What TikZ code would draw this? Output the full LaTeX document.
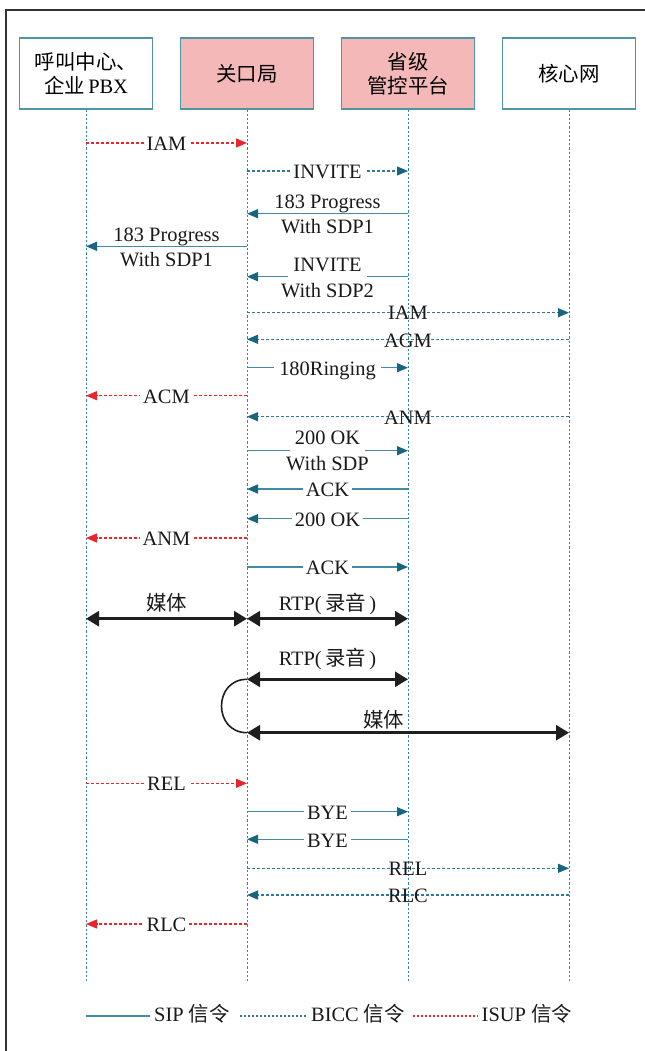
\documentclass[tikz,border=0pt]{standalone}
\usepackage{fontspec}
\setmainfont{Liberation Serif}
\newfontfamily\cjk{Noto Sans CJK SC}
\usetikzlibrary{arrows.meta}
\definecolor{boxline}{HTML}{4E95A8}
\definecolor{boxpink}{HTML}{F5B8B8}
\definecolor{lifec}{HTML}{3A849C}
\definecolor{sipline}{HTML}{3F8CA4}
\definecolor{siphead}{HTML}{17657F}
\definecolor{biccline}{HTML}{2F7B95}
\definecolor{isupred}{HTML}{E8262D}
\definecolor{framec}{HTML}{333333}
\newcommand\lf{\fontsize{20.5}{24}\selectfont}
\begin{document}
\begin{tikzpicture}[x=1bp,y=-1bp,
  frameline/.style={draw=framec, line width=1.5bp},
  hbox/.style={draw=boxline, line width=1.2bp, minimum width=133bp, minimum height=71bp,
    align=center, font=\lf, inner sep=0bp},
  life/.style={draw=lifec, line width=1bp, dash pattern=on 2.2bp off 2bp},
  sip/.style={draw=sipline, line width=1.5bp, -{Triangle[length=11bp,width=9bp,color=siphead]}},
  bicc/.style={draw=biccline, line width=1.2bp, dash pattern=on 3bp off 2bp, -{Triangle[length=11bp,width=9bp,color=siphead]}},
  isup/.style={draw=isupred, line width=1.2bp, dash pattern=on 3bp off 2bp, -{Triangle[length=11bp,width=9bp,color=isupred]}},
  media/.style={draw=black!88, line width=2.7bp, {Triangle[length=13bp,width=15bp]}-{Triangle[length=13bp,width=15bp]}},
  lbl/.style={font=\lf, inner sep=0bp, anchor=base, pos=0.5, text=black!90},
  gap/.style={lbl, fill=white, inner xsep=3bp, inner ysep=1bp},
  legtxt/.style={font=\lf, inner sep=0bp, anchor=base west, text=black!90}
]
\useasboundingbox (0,0) rectangle (645,1051);
\draw[frameline] (6,1051) -- (6,10) -- (645,10);

% headers
\node[hbox] (h1) at (86,73.5) {{\cjk\fontsize{20.5}{27}\selectfont 呼叫中心、}\\[0bp]{\cjk\fontsize{20.5}{27}\selectfont 企业}\,PBX};
\node[hbox, fill=boxpink] (h2) at (247,73.5) {{\cjk\fontsize{20.5}{27}\selectfont 关口局}};
\node[hbox, fill=boxpink] (h3) at (408,73.5) {{\cjk\fontsize{20.5}{27}\selectfont 省级}\\{\cjk\fontsize{20.5}{27}\selectfont 管控平台}};
\node[hbox] (h4) at (569,73.5) {{\cjk\fontsize{20.5}{27}\selectfont 核心网}};

% lifelines
\coordinate (e1) at (86,981);
\coordinate (e2) at (247,981);
\coordinate (e3) at (408,981);
\coordinate (e4) at (569,981);
\draw[life] (h1) -- (e1);
\draw[life] (h2) -- (e2);
\draw[life] (h3) -- (e3);
\draw[life] (h4) -- (e4);

% messages
\draw[isup] (h1 |- 0,143) -- node[gap, yshift=-7.6bp]{IAM} (h2 |- 0,143);
\draw[bicc] (h2 |- 0,171) -- node[gap, yshift=-7.6bp]{INVITE} (h3 |- 0,171);
\draw[sip] (h3 |- 0,213.7) -- node[lbl, yshift=5.4bp]{183 Progress} node[lbl, yshift=-19.6bp]{With SDP1} (h2 |- 0,213.7);
\draw[sip] (h2 |- 0,246.3) -- node[lbl, yshift=4.8bp]{183 Progress} node[lbl, yshift=-20.2bp]{With SDP1} (h1 |- 0,246.3);
\draw[sip] (h3 |- 0,276.7) -- node[gap, yshift=5.1bp, text depth=7bp, inner xsep=5bp]{INVITE} node[lbl, yshift=-20.6bp]{With SDP2} (h2 |- 0,276.7);
\draw[bicc] (h2 |- 0,312.7) -- node[lbl, yshift=-7.2bp]{IAM} (h4 |- 0,312.7);
\draw[bicc] (h4 |- 0,339.3) -- node[lbl, yshift=-8.3bp]{AGM} (h2 |- 0,339.3);
\draw[sip] (h2 |- 0,367.7) -- node[gap, yshift=-8.2bp, inner xsep=5bp]{180Ringing} (h3 |- 0,367.7);
\draw[isup] (h2 |- 0,395.7) -- node[gap, yshift=-7.6bp]{ACM} (h1 |- 0,395.7);
\draw[bicc] (h4 |- 0,416.7) -- node[lbl, yshift=-8bp]{ANM} (h2 |- 0,416.7);
\draw[sip] (h2 |- 0,450.7) -- node[gap, yshift=5.8bp, text depth=8bp, inner xsep=5bp]{200 OK} node[lbl, yshift=-19.9bp]{With SDP} (h3 |- 0,450.7);
\draw[sip] (h3 |- 0,489) -- node[gap, yshift=-7.6bp]{ACK} (h2 |- 0,489);
\draw[sip] (h3 |- 0,518.7) -- node[gap, yshift=-7.6bp]{200 OK} (h2 |- 0,518.7);
\draw[isup] (h2 |- 0,538) -- node[gap, yshift=-7.6bp]{ANM} (h1 |- 0,538);
\draw[sip] (h2 |- 0,567) -- node[gap, yshift=-7.6bp]{ACK} (h3 |- 0,567);

% media
\draw[media] (h1 |- 0,618.7) -- node[lbl, yshift=8.4bp]{\cjk 媒体} (h2 |- 0,618.7);
\draw[media] (h2 |- 0,618.7) -- node[lbl, yshift=8.4bp]{RTP(\,{\cjk 录音}\,)} (h3 |- 0,618.7);
\draw[media] (h2 |- 0,679.3) -- node[lbl, yshift=14bp]{RTP(\,{\cjk 录音}\,)} (h3 |- 0,679.3);
\draw[media] (h2 |- 0,732.7) -- node[lbl, pos=0.425, yshift=5.7bp]{\cjk 媒体} (h4 |- 0,732.7);
\draw[draw=black!88, line width=1.6bp] (h2 |- 0,679.3) .. controls (213,679.3) and (213,732.7) .. (h2 |- 0,732.7);

% release
\draw[isup] (h1 |- 0,783.3) -- node[gap, yshift=-7.6bp]{REL} (h2 |- 0,783.3);
\draw[sip] (h2 |- 0,811.7) -- node[gap, yshift=-8.2bp]{BYE} (h3 |- 0,811.7);
\draw[sip] (h3 |- 0,839.3) -- node[gap, yshift=-8.2bp]{BYE} (h2 |- 0,839.3);
\draw[bicc] (h2 |- 0,868.3) -- node[lbl, yshift=-7.5bp]{REL} (h4 |- 0,868.3);
\draw[bicc] (h4 |- 0,895) -- node[lbl, yshift=-7.8bp]{RLC} (h2 |- 0,895);
\draw[isup] (h2 |- 0,924) -- node[gap, yshift=-7.6bp]{RLC} (h1 |- 0,924);

% legend
\draw[draw=sipline, line width=1.5bp] (86,1016) -- (150,1016);
\node[legtxt] (l1) at (154,1021.6) {SIP {\cjk 信令}};
\draw[draw=biccline, line width=1.2bp, dash pattern=on 2bp off 2bp] (240,1016) -- (306.6,1016);
\node[legtxt] (l2) at (311,1021.6) {BICC {\cjk 信令}};
\draw[draw=isupred, line width=1.2bp, dash pattern=on 2bp off 2bp] (412.8,1016) -- (477,1016);
\node[legtxt] (l3) at (481.5,1021.6) {ISUP {\cjk 信令}};
\end{tikzpicture}
\end{document}
